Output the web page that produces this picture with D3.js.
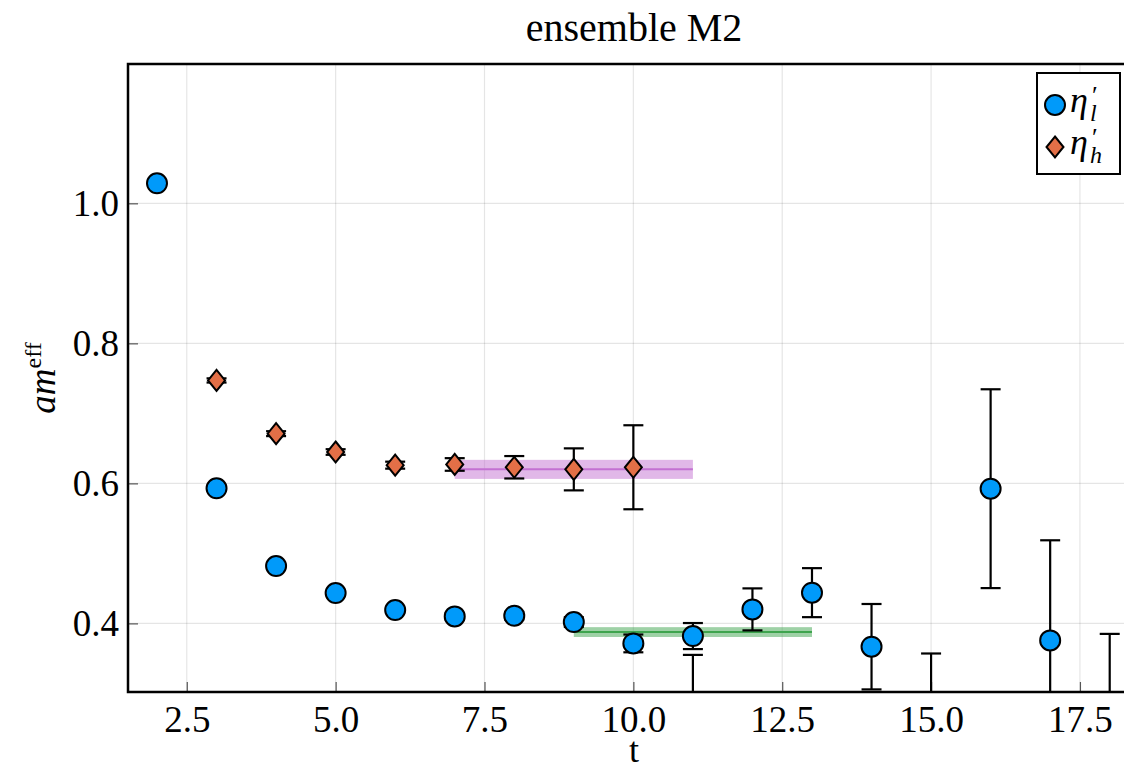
<!DOCTYPE html>
<html>
<head>
<meta charset="utf-8">
<script src="https://d3js.org/d3.v7.min.js"></script>
<style>
  body { margin: 0; background: #fff; }
  text { font-family: "Liberation Serif", "DejaVu Serif", serif; fill: #000; }
</style>
</head>
<body>
<div id="chart"></div>
<script>
// eta'_l (light) effective mass
var tLight = [2, 3, 4, 5, 6, 7, 8, 9, 10, 11, 12, 13, 14, 15, 16, 17, 18]
var mLight = [1.0286, 0.5929, 0.4819, 0.4433, 0.4190, 0.4100, 0.4110, 0.4019, 0.3714, 0.3819, 0.4200, 0.4439, 0.3667, 0.2500, 0.5924, 0.3757, 0.2200]
var eLight = [0.0015, 0.0020, 0.0025, 0.0030, 0.0035, 0.0045, 0.0055, 0.0070, 0.0127, 0.0186, 0.0300, 0.0350, 0.0610, 0.1070, 0.1420, 0.1430, 0.1650]

// eta'_h (heavy) effective mass
var tHeavy = [3, 4, 5, 6, 7, 8, 9, 10, 11]
var mHeavy = [0.7470, 0.6710, 0.6448, 0.6260, 0.6270, 0.6230, 0.6200, 0.6230, 0.2500]
var eHeavy = [0.0030, 0.0035, 0.0040, 0.0050, 0.0090, 0.0160, 0.0300, 0.0600, 0.1050]

// plateau fits: [tmin, tmax, value, error]
var fitLight = [9, 13, 0.3876, 0.0070]
var fitHeavy = [7, 11, 0.6200, 0.0136]

var xTicks = [2.5, 5.0, 7.5, 10.0, 12.5, 15.0, 17.5]
var yTicks = [0.4, 0.6, 0.8, 1.0]

var W = 1125, H = 769
var pLeft = 128, pTop = 64, pRight = 1124, pBottom = 692

var blue = "#009AFA", orange = "#E36F47", green = "#3EA44E", purple = "#C371D2"

var svg = d3.select("#chart").append("svg")
  .attr("width", W).attr("height", H)

var x = d3.scaleLinear().domain([1.513, 18.24]).range([pLeft, pRight])
var y = d3.scaleLinear().domain([0.302, 1.199]).range([pBottom, pTop])

svg.append("clipPath").attr("id", "clip")
  .append("rect").attr("x", pLeft).attr("y", pTop)
  .attr("width", pRight - pLeft).attr("height", pBottom - pTop)

// grid lines
svg.append("g").selectAll("line").data(xTicks).enter().append("line")
  .attr("x1", d => x(d)).attr("x2", d => x(d))
  .attr("y1", pTop).attr("y2", pBottom)
  .attr("stroke", "#000").attr("stroke-opacity", 0.1).attr("stroke-width", 1.2)
svg.append("g").selectAll("line").data(yTicks).enter().append("line")
  .attr("y1", d => y(d)).attr("y2", d => y(d))
  .attr("x1", pLeft).attr("x2", pRight)
  .attr("stroke", "#000").attr("stroke-opacity", 0.1).attr("stroke-width", 1.2)

// axes with inner ticks
var xAxis = svg.append("g").attr("transform", "translate(0," + pBottom + ")")
  .call(d3.axisBottom(x).tickValues(xTicks).tickFormat(d3.format(".1f")).tickSize(-10).tickPadding(14))
var yAxis = svg.append("g").attr("transform", "translate(" + pLeft + ",0)")
  .call(d3.axisLeft(y).tickValues(yTicks).tickFormat(d3.format(".1f")).tickSize(-10).tickPadding(9))
;[xAxis, yAxis].forEach(function(a) {
  a.select(".domain").remove()
  a.selectAll(".tick line").attr("stroke", "#555").attr("stroke-width", 1.2)
  a.selectAll(".tick text").style("font-family", "Liberation Serif").style("font-size", "37px").attr("fill", "#000")
})

var plot = svg.append("g").attr("clip-path", "url(#clip)")

// fit bands
function band(f, col) {
  plot.append("rect")
    .attr("x", x(f[0])).attr("width", x(f[1]) - x(f[0]))
    .attr("y", y(f[2] + f[3])).attr("height", y(f[2] - f[3]) - y(f[2] + f[3]))
    .attr("fill", col).attr("fill-opacity", 0.5)
  plot.append("line")
    .attr("x1", x(f[0])).attr("x2", x(f[1]))
    .attr("y1", y(f[2])).attr("y2", y(f[2]))
    .attr("stroke", col).attr("stroke-width", 2)
}
band(fitHeavy, purple)
band(fitLight, green)

// error bars
function errorBars(ts, ms, es) {
  var g = plot.append("g").attr("stroke", "#000").attr("stroke-width", 2.2)
  ts.forEach(function(t, i) {
    var lo = y(ms[i] - es[i]), hi = y(ms[i] + es[i]), cx = x(t)
    g.append("line").attr("x1", cx).attr("x2", cx).attr("y1", lo).attr("y2", hi)
    g.append("line").attr("x1", cx - 10).attr("x2", cx + 10).attr("y1", lo).attr("y2", lo)
    g.append("line").attr("x1", cx - 10).attr("x2", cx + 10).attr("y1", hi).attr("y2", hi)
  })
}
errorBars(tLight, mLight, eLight)
errorBars(tHeavy, mHeavy, eHeavy)

var diamond = "M0,-10.5L8.5,0L0,10.5L-8.5,0Z"

plot.selectAll("circle.light").data(tLight).enter().append("circle")
  .attr("cx", d => x(d)).attr("cy", (d, i) => y(mLight[i])).attr("r", 10)
  .attr("fill", blue).attr("stroke", "#000").attr("stroke-width", 2)

plot.selectAll("path.heavy").data(tHeavy).enter().append("path")
  .attr("d", diamond)
  .attr("transform", (d, i) => "translate(" + x(d) + "," + y(mHeavy[i]) + ")")
  .attr("fill", orange).attr("stroke", "#000").attr("stroke-width", 2)

// frame (left, bottom, top)
svg.append("path")
  .attr("d", "M" + pRight + "," + pTop + "H" + pLeft + "V" + pBottom + "H" + pRight)
  .attr("fill", "none").attr("stroke", "#000").attr("stroke-width", 2.5)

// title and labels
svg.append("text").attr("x", (pLeft + pRight) / 2 + 8).attr("y", 41)
  .attr("text-anchor", "middle").style("font-size", "40px").text("ensemble M2")
svg.append("text").attr("x", (pLeft + pRight) / 2 + 8).attr("y", 762)
  .attr("text-anchor", "middle").style("font-size", "36px").text("t")

var yl = svg.append("text")
  .attr("transform", "translate(55," + (pTop + pBottom) / 2 + ") rotate(-90)")
  .attr("text-anchor", "middle")
yl.append("tspan").style("font-style", "italic").style("font-size", "37px").text("am")
yl.append("tspan").attr("dy", -14).style("font-size", "24px").text("eff")

// legend
var lg = svg.append("g")
lg.append("rect").attr("x", 1037).attr("y", 73).attr("width", 83).attr("height", 101)
  .attr("fill", "#fff").attr("stroke", "#000").attr("stroke-width", 2)
lg.append("circle").attr("cx", 1055).attr("cy", 105).attr("r", 10)
  .attr("fill", blue).attr("stroke", "#000").attr("stroke-width", 2)
lg.append("path").attr("d", diamond).attr("transform", "translate(1055,147)")
  .attr("fill", orange).attr("stroke", "#000").attr("stroke-width", 2)

function etaLabel(yy, sub) {
  lg.append("text").attr("x", 1070).attr("y", yy).style("font-style", "italic").style("font-size", "36px").text("η")
  lg.append("text").attr("x", 1092).attr("y", yy - 8).style("font-size", "26px").text("′")
  lg.append("text").attr("x", 1090).attr("y", yy + 9).style("font-style", "italic").style("font-size", "24px").text(sub)
}
etaLabel(112, "l")
etaLabel(154, "h")
</script>
</body>
</html>
